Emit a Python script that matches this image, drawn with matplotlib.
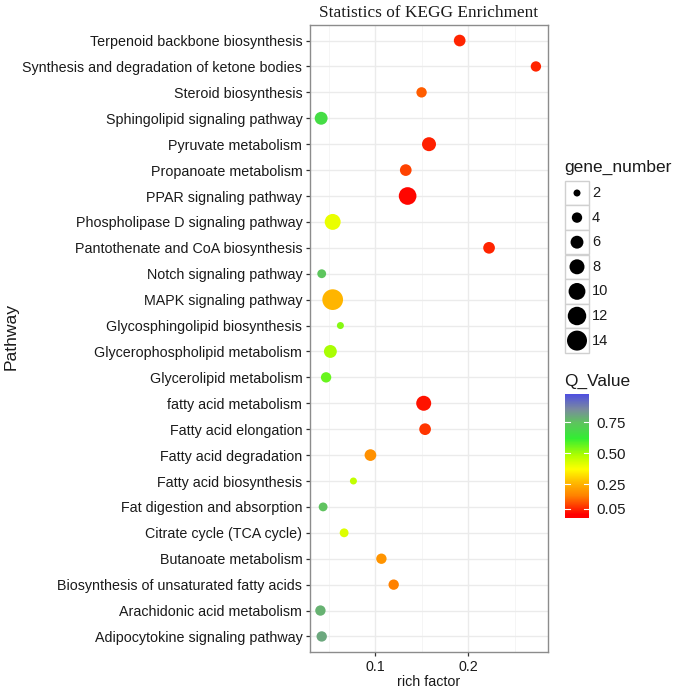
import numpy as np
import matplotlib
matplotlib.use("Agg")
import matplotlib.pyplot as plt
from matplotlib.colors import LinearSegmentedColormap, Normalize

# ---------------- data (top to bottom as shown) ----------------
pathways = [
    "Terpenoid backbone biosynthesis",
    "Synthesis and degradation of ketone bodies",
    "Steroid biosynthesis",
    "Sphingolipid signaling pathway",
    "Pyruvate metabolism",
    "Propanoate metabolism",
    "PPAR signaling pathway",
    "Phospholipase D signaling pathway",
    "Pantothenate and CoA biosynthesis",
    "Notch signaling pathway",
    "MAPK signaling pathway",
    "Glycosphingolipid biosynthesis",
    "Glycerophospholipid metabolism",
    "Glycerolipid metabolism",
    "fatty acid metabolism",
    "Fatty acid elongation",
    "Fatty acid degradation",
    "Fatty acid biosynthesis",
    "Fat digestion and absorption",
    "Citrate cycle (TCA cycle)",
    "Butanoate metabolism",
    "Biosynthesis of unsaturated fatty acids",
    "Arachidonic acid metabolism",
    "Adipocytokine signaling pathway",
]
rich_factor = [0.191, 0.273, 0.150, 0.042, 0.158, 0.133, 0.135, 0.0544,
               0.2226, 0.0426, 0.0544, 0.0627, 0.0519, 0.0473, 0.1523, 0.1538,
               0.095, 0.0767, 0.0441, 0.0667, 0.1068, 0.120, 0.0412, 0.0426]
gene_number = [5, 4, 4, 6, 7, 5, 11, 9, 5, 3, 15, 2, 6, 4, 8, 5,
               5, 2, 3, 3, 4, 4, 4, 4]
q_value = [0.045, 0.045, 0.11, 0.67, 0.04, 0.08, 0.01, 0.40, 0.045, 0.74,
           0.25, 0.53, 0.49, 0.56, 0.025, 0.065, 0.18, 0.46, 0.75, 0.42,
           0.19, 0.155, 0.78, 0.80]

size_breaks = [2, 4, 6, 8, 10, 12, 14]
q_breaks = [0.05, 0.25, 0.50, 0.75]
q_break_labels = ["0.05", "0.25", "0.50", "0.75"]

# ---------------- styling ----------------
W, H = 675, 692
DPI = 100
SANS = ["Liberation Sans", "DejaVu Sans"]
SERIF = ["Liberation Serif", "DejaVu Serif"]
plt.rcParams["font.family"] = SANS

vlo, vhi = -0.025, 0.979
anchors = [(vlo, "#ff0000"), (0.00, "#ff0000"), (0.15, "#ff8000"), (0.27, "#ffbf00"),
           (0.37, "#ffff00"), (0.48, "#b3ff00"), (0.62, "#33ee33"),
           (0.75, "#5fc35f"), (0.86, "#7a8aa0"), (vhi, "#5050e0")]
cmap = LinearSegmentedColormap.from_list(
    "q", [((v - vlo) / (vhi - vlo), c) for v, c in anchors])
norm = Normalize(vmin=vlo, vmax=vhi)


def size_pts2(n):
    d_px = np.sqrt(29.25 * np.asarray(n, dtype=float) - 9.5)
    d_pt = d_px * 72.0 / DPI
    return d_pt ** 2


fig = plt.figure(figsize=(W / DPI, H / DPI), dpi=DPI)


def fx(px):
    return px / W


def fy(py):
    return 1 - py / H


# main panel
pl, pr, pt, pb = 310, 548, 25, 652
ax = fig.add_axes([fx(pl), fy(pb), fx(pr - pl), (pb - pt) / H])
n = len(pathways)
ypos = np.arange(n)[::-1]
ax.scatter(rich_factor, ypos, s=size_pts2(gene_number), c=q_value,
           cmap=cmap, norm=norm, linewidths=0, zorder=3)
ax.set_ylim(-0.6, n - 1 + 0.6)
ax.set_xlim(0.0300, 0.2860)
ax.set_yticks(ypos)
ax.set_yticklabels(pathways)
ax.set_xticks([0.1, 0.2])
ax.set_xticklabels(["0.1", "0.2"])
ax.set_xticks([0.05, 0.15, 0.25], minor=True)
ax.grid(True, which="major", color="#ebebeb", linewidth=1.0, zorder=0)
ax.grid(True, which="minor", axis="x", color="#f4f4f4", linewidth=0.6, zorder=0)
ax.set_axisbelow(True)
for sp in ax.spines.values():
    sp.set_color("#8c8c8c")
    sp.set_linewidth(1.0)
ax.tick_params(axis="both", which="major", length=3, width=0.9, color="#333333",
               labelsize=10.3, labelcolor="#1a1a1a", pad=2.5)
ax.tick_params(axis="x", which="minor", length=0)
ax.set_xlabel("rich factor", fontsize=10.3, color="#1a1a1a", labelpad=1)
ax.set_title("Statistics of KEGG Enrichment", fontsize=12.4, family=SERIF,
             color="#1a1a1a", pad=6)
fig.text(fx(11), fy(336), "Pathway", rotation=90, fontsize=12.6, color="#1a1a1a",
         ha="center", va="center")

# overlay for legends (pixel coordinates)
ov = fig.add_axes([0, 0, 1, 1], zorder=5)
ov.set_xlim(0, W)
ov.set_ylim(H, 0)
ov.axis("off")

ov.text(564, 167, "gene_number", fontsize=12.5, color="#1a1a1a", ha="left", va="center")
key_x0, key_w, key_h = 565, 24, 24.6
centers = [193 + i * 24.6 for i in range(len(size_breaks))]
for cy, b in zip(centers, size_breaks):
    ov.add_patch(plt.Rectangle((key_x0, cy - key_h / 2), key_w, key_h,
                               facecolor="white", edgecolor="#d0d0d0", linewidth=1.0))
    ov.text(key_x0 + key_w + 3, cy, str(b), fontsize=10.5, color="#1a1a1a",
            ha="left", va="center")
ov.scatter([key_x0 + key_w / 2] * len(size_breaks), centers,
           s=size_pts2(size_breaks), color="black", linewidths=0, zorder=6)

ov.text(564, 381, "Q_Value", fontsize=12.4, color="#1a1a1a", ha="left", va="center")

# colorbar
cb_top, cb_bot = 394, 518
cax = fig.add_axes([fx(565), fy(cb_bot), fx(24), (cb_bot - cb_top) / H])
grad = np.linspace(vlo, vhi, 300)[:, None]
cax.imshow(grad, aspect="auto", cmap=cmap, norm=norm, origin="lower",
           extent=[0, 1, vlo, vhi])
cax.set_xlim(0, 1)
cax.set_ylim(vlo, vhi)
cax.set_xticks([])
cax.yaxis.tick_right()
cax.set_yticks(q_breaks)
cax.set_yticklabels(q_break_labels)
cax.tick_params(axis="y", length=0, pad=5, labelsize=10.8, labelcolor="#1a1a1a")
for sp in cax.spines.values():
    sp.set_visible(False)
for q in q_breaks:
    cax.plot([0, 0.2], [q, q], color="white", linewidth=0.8)
    cax.plot([0.8, 1], [q, q], color="white", linewidth=0.8)

fig.savefig("out.png", dpi=DPI)
